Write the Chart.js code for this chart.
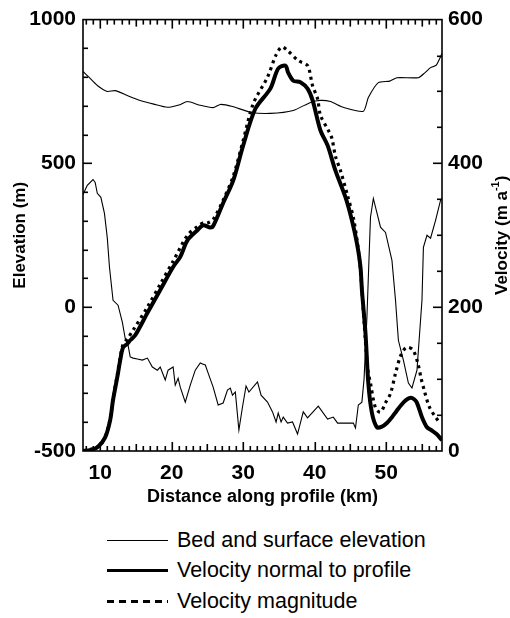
<!DOCTYPE html>
<html>
<head>
<meta charset="utf-8">
<script src="https://cdn.jsdelivr.net/npm/chart.js@4.4.0/dist/chart.umd.min.js"></script>
<style>
body { margin: 0; background: #fff; font-family: "Liberation Sans", Arial, sans-serif; }
#wrap { width: 510px; height: 515px; }
.legend { position: relative; width: 510px; height: 103px; }
.row { position: absolute; left: 107px; height: 30px; display: flex; align-items: center; font-size: 21.5px; color: #000; }
.sample { width: 61px; margin-right: 9px; background: #000; }
.thin { height: 1px; }
.thick { height: 3px; }
.dash { height: 3px; background: repeating-linear-gradient(90deg, #000 0 7px, transparent 7px 12px); }
</style>
</head>
<body>
<div id="wrap"><canvas id="myChart" width="510" height="515"></canvas></div>
<div class="legend">
  <div class="row" style="top:10px"><span class="sample thin"></span>Bed and surface elevation</div>
  <div class="row" style="top:40px"><span class="sample thick"></span>Velocity normal to profile</div>
  <div class="row" style="top:71px"><span class="sample dash"></span>Velocity magnitude</div>
</div>
<script>
// surface elevation (m)
const surfKm = [7.6, 8.5, 9.6, 11.0, 12.1, 13.8, 15.6, 17.5, 19.4, 21.0, 22.2, 24.0, 25.8, 26.8, 28.5, 31.0, 33.8, 37.0, 39.4, 40.8, 42.2, 44.0, 46.8, 47.5, 48.9, 50.5, 51.5, 54.5, 55.4, 56.2, 57.0, 57.8];
const surfElev = [820, 798, 771, 750, 753, 736, 719, 706, 695, 703, 715, 702, 694, 705, 698, 678, 674, 684, 712, 719, 715, 695, 681, 729, 781, 786, 798, 798, 815, 833, 842, 882];

// bed elevation (m)
const bedKm = [7.6, 8.2, 9.0, 9.3, 9.6, 10.1, 10.6, 11.0, 11.3, 11.8, 12.5, 13.1, 13.5, 13.9, 14.2, 14.6, 15.2, 15.9, 16.6, 17.3, 18.0, 18.4, 19.1, 19.5, 20.2, 20.5, 20.9, 21.2, 21.9, 22.6, 23.3, 24.0, 24.4, 24.7, 25.1, 25.8, 26.5, 27.2, 27.8, 28.2, 28.5, 28.9, 29.4, 29.9, 30.4, 30.8, 32.0, 32.5, 33.4, 34.1, 34.6, 34.9, 35.3, 35.6, 36.2, 36.9, 37.6, 38.4, 39.0, 40.5, 41.8, 42.6, 43.2, 45.4, 45.7, 46.1, 46.6, 46.9, 47.3, 47.8, 48.2, 49.2, 49.9, 50.8, 51.3, 51.7, 52.4, 53.1, 53.6, 54.3, 55.0, 55.2, 55.7, 56.2, 56.9, 57.6, 57.8];
const bedElev = [392, 424, 444, 434, 396, 382, 326, 240, 140, 24, 7, -52, -108, -132, -173, -177, -180, -184, -177, -208, -219, -208, -253, -219, -208, -271, -247, -278, -330, -271, -219, -194, -198, -201, -229, -278, -340, -333, -288, -281, -306, -295, -427, -347, -274, -295, -260, -306, -330, -364, -399, -368, -399, -382, -403, -399, -441, -364, -385, -344, -389, -382, -403, -403, -420, -340, -330, -250, -35, 313, 378, 278, 260, 163, 24, -115, -184, -264, -281, -219, 24, 208, 250, 240, 302, 372, 378];

// velocity normal to profile (m/a)
const vnKm = [7.6, 8.6, 9.7, 10.7, 11.4, 11.8, 12.4, 12.8, 13.2, 13.8, 14.2, 14.9, 16.6, 18.4, 20.2, 21.2, 22.2, 23.6, 24.4, 25.4, 25.8, 27.2, 28.6, 30.0, 31.7, 33.8, 34.9, 35.9, 36.3, 37.0, 38.0, 39.0, 39.7, 40.8, 41.8, 42.9, 44.3, 45.2, 45.9, 46.4, 46.6, 47.1, 47.5, 48.0, 48.7, 49.4, 50.1, 50.8, 51.4, 52.1, 52.8, 53.4, 53.9, 54.3, 55.0, 55.7, 56.3, 57.0, 57.8];
const vnVel = [0, 1, 6, 19, 43, 71, 103, 126, 144, 149, 154, 161, 192, 224, 256, 270, 293, 307, 314, 311, 313, 345, 376, 425, 476, 504, 532, 536, 526, 515, 513, 504, 488, 446, 425, 390, 353, 321, 289, 256, 224, 164, 94, 53, 33, 34, 39, 47, 55, 64, 71, 74, 72, 67, 47, 33, 29, 24, 15];

// velocity magnitude (m/a)
const vmKm = [7.6, 9.7, 10.7, 11.4, 11.8, 12.4, 12.8, 13.2, 13.8, 14.6, 16.6, 18.4, 20.2, 22.2, 23.6, 24.4, 25.0, 25.8, 27.2, 28.6, 30.0, 31.4, 33.4, 34.6, 35.4, 36.2, 37.7, 39.0, 39.7, 40.4, 40.8, 41.9, 42.4, 42.9, 43.6, 44.6, 45.5, 46.3, 46.9, 47.4, 47.8, 48.5, 49.2, 49.9, 50.6, 51.3, 52.0, 52.8, 53.7, 54.4, 54.9, 55.3, 56.0, 56.9, 57.5];
const vmVel = [0, 6, 20, 45, 73, 106, 130, 148, 156, 168, 200, 232, 264, 300, 312, 317, 317, 322, 349, 382, 432, 483, 520, 551, 562, 557, 543, 536, 508, 490, 467, 446, 435, 410, 390, 355, 320, 262, 180, 115, 94, 60, 54, 67, 80, 108, 132, 144, 141, 123, 100, 85, 62, 47, 39];

const xTicks = [10, 20, 30, 40, 50];
const elevTicks = [-500, 0, 500, 1000];
const velTicks = [0, 200, 400, 600];

const toXY = (xs, ys) => xs.map((x, i) => ({x: x, y: ys[i]}));
const setTicks = list => scale => { scale.ticks = list.map(v => ({value: v})); };
const plain = v => String(v);

const FONT = '"Liberation Sans", Arial, sans-serif';
Chart.defaults.font.family = FONT;
Chart.defaults.color = '#000';

// box frame, inward ticks and the right axis title
const frameTicks = {
  id: 'frameTicks',
  afterDraw(chart) {
    const {ctx, chartArea: a, scales} = chart;
    ctx.save();
    ctx.strokeStyle = '#000';
    ctx.lineWidth = 1.6;
    ctx.strokeRect(a.left, a.top, a.right - a.left, a.bottom - a.top);

    ctx.fillStyle = '#000';
    for (let v = 8; v <= 57; v++) {
      const px = Math.round(scales.x.getPixelForValue(v));
      const len = v % 10 === 0 ? 9 : (v % 5 === 0 ? 7 : 5);
      ctx.fillRect(px - 0.5, a.bottom - len, 1.6, len);
      ctx.fillRect(px - 0.5, a.top, 1.6, len);
    }
    for (let v = -400; v < 1000; v += 100) {
      const py = Math.round(scales.y.getPixelForValue(v));
      const len = v % 500 === 0 ? 9 : 5;
      ctx.fillRect(a.left, py - 0.5, len, 1.6);
    }
    for (let v = 50; v < 600; v += 50) {
      const py = Math.round(scales.y2.getPixelForValue(v));
      const len = v % 200 === 0 ? 9 : 5;
      ctx.fillRect(a.right - len, py - 0.5, len, 1.6);
    }

    ctx.translate(a.right + 60, (a.top + a.bottom) / 2);
    ctx.rotate(-Math.PI / 2);
    ctx.textBaseline = 'middle';
    ctx.textAlign = 'left';
    const big = 'bold 17px ' + FONT, small = 'bold 11px ' + FONT;
    ctx.font = big;
    const w1 = ctx.measureText('Velocity (m a').width;
    const w3 = ctx.measureText(')').width;
    ctx.font = small;
    const w2 = ctx.measureText('-1').width;
    const x0 = -(w1 + w2 + w3) / 2;
    ctx.font = big;
    ctx.fillText('Velocity (m a', x0, 0);
    ctx.font = small;
    ctx.fillText('-1', x0 + w1, -6);
    ctx.font = big;
    ctx.fillText(')', x0 + w1 + w2, 0);
    ctx.restore();
  }
};

const chartEl = document.getElementById('myChart');

new Chart(chartEl, {
  type: 'line',
  data: {
    datasets: [{
      label: 'Surface elevation',
      data: toXY(surfKm, surfElev),
      yAxisID: 'y',
      borderColor: '#000',
      borderWidth: 1.1,
      tension: 0.2
    }, {
      label: 'Bed elevation',
      data: toXY(bedKm, bedElev),
      yAxisID: 'y',
      borderColor: '#000',
      borderWidth: 1.1,
      tension: 0
    }, {
      label: 'Velocity magnitude',
      data: toXY(vmKm, vmVel),
      yAxisID: 'y2',
      borderColor: '#000',
      borderWidth: 3.2,
      borderDash: [3, 4],
      tension: 0.3
    }, {
      label: 'Velocity normal to profile',
      data: toXY(vnKm, vnVel),
      yAxisID: 'y2',
      borderColor: '#000',
      borderWidth: 4,
      tension: 0.3
    }]
  },
  options: {
    responsive: false,
    animation: false,
    elements: { point: { radius: 0 } },
    layout: { padding: { top: 19 } },
    plugins: { legend: { display: false }, tooltip: { enabled: false } },
    scales: {
      x: {
        type: 'linear',
        min: 7.6,
        max: 57.8,
        grid: { display: false, drawTicks: false },
        border: { display: false },
        afterBuildTicks: setTicks(xTicks),
        afterFit: s => { s.height = 64; },
        ticks: { font: { size: 21, weight: 'bold' }, padding: 10, maxRotation: 0, callback: plain },
        title: { display: true, text: 'Distance along profile (km)', font: { size: 18, weight: 'bold' }, padding: { top: 0, bottom: 7 } }
      },
      y: {
        position: 'left',
        min: -500,
        max: 1000,
        grid: { display: false, drawTicks: false },
        border: { display: false },
        afterBuildTicks: setTicks(elevTicks),
        afterFit: s => { s.width = 83; },
        ticks: { font: { size: 21, weight: 'bold' }, padding: 7, callback: plain },
        title: { display: true, text: 'Elevation (m)', font: { size: 17, weight: 'bold' }, padding: { top: 10, bottom: 0 } }
      },
      y2: {
        position: 'right',
        min: 0,
        max: 600,
        grid: { display: false, drawTicks: false },
        border: { display: false },
        afterBuildTicks: setTicks(velTicks),
        afterFit: s => { s.width = 68; },
        ticks: { font: { size: 21, weight: 'bold' }, padding: 6, callback: plain }
      }
    }
  },
  plugins: [frameTicks]
});
</script>
</body>
</html>
